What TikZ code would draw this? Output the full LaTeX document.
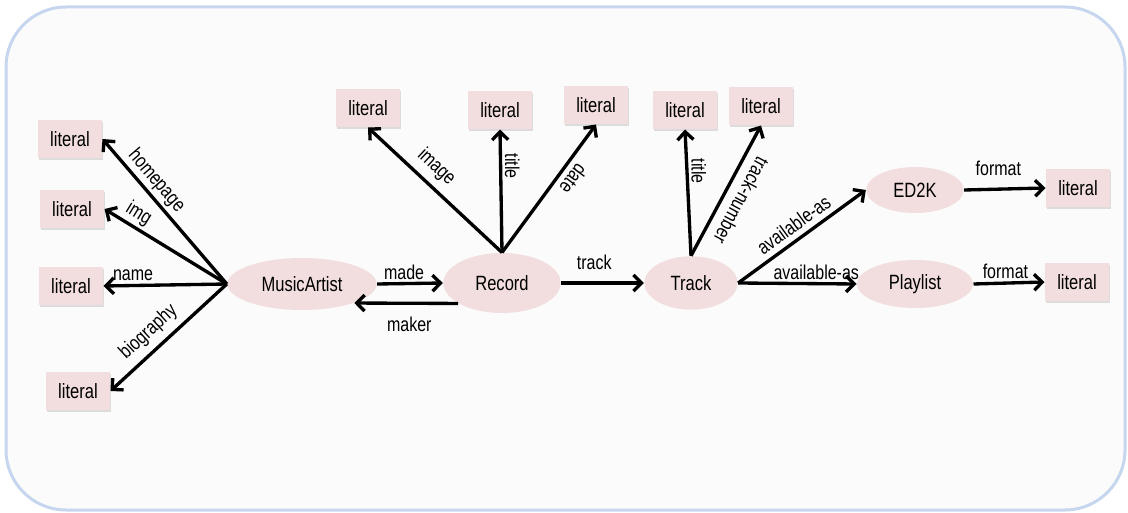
\documentclass[tikz,border=0pt]{standalone}
\usepackage{fontspec}
\setmainfont{Liberation Sans}[FakeStretch=0.8]
\usetikzlibrary{arrows.meta,shapes.geometric,shadows}

\definecolor{nodepink}{RGB}{242,222,222}
\definecolor{frameblue}{RGB}{198,214,238}
\definecolor{framefill}{RGB}{251,251,251}

\tikzset{every picture/.style={line width=0.75pt},
	lit/.style={rectangle, fill=nodepink, minimum width=48pt, minimum height=28.5pt, inner sep=2pt,
		font=\fontsize{15.5}{17}\selectfont,
		drop shadow={shadow xshift=1pt, shadow yshift=-1.5pt, opacity=0.25}},
	res/.style={ellipse, fill=nodepink, inner sep=0pt, font=\fontsize{15.5}{17}\selectfont},
	rel/.style={-{Straight Barb[length=6pt,width=12pt]}, line width=2.5pt},
	lbl/.style={font=\fontsize{15}{17}\selectfont, inner sep=2pt},
	farlbl/.style={lbl, inner sep=9pt}}

\begin{document}
\begin{tikzpicture}[x=0.75pt,y=-0.75pt]
	\useasboundingbox (0,0) rectangle (1128,513);

	%Frame
	\draw [frameblue, line width=2.25pt, fill=framefill, rounded corners=45pt] (6,7) rectangle (1125,510);

	%Resources
	\node [res, minimum width=112pt, minimum height=39pt] (artist) at (302,284) {MusicArtist};
	\node [res, minimum width=88pt, minimum height=45pt] (record) at (502,283) {Record};
	\node [res, minimum width=70pt, minimum height=40pt] (track) at (691,283) {Track};
	\node [res, minimum width=73pt, minimum height=34.5pt] (edk) at (915,190) {ED2K};
	\node [res, minimum width=87pt, minimum height=36pt] (playlist) at (915,284) {Playlist};

	%Literals
	\node [lit] (hplit) at (70,139) {literal};
	\node [lit] (imglit) at (72,209) {literal};
	\node [lit] (namelit) at (71,286) {literal};
	\node [lit] (biolit) at (78,391) {literal};
	\node [lit] (imagelit) at (368,108) {literal};
	\node [lit] (rtitlelit) at (500,110) {literal};
	\node [lit] (datelit) at (596,105) {literal};
	\node [lit] (ttitlelit) at (685,110) {literal};
	\node [lit] (numlit) at (761,106) {literal};
	\node [lit] (edklit) at (1078,188) {literal};
	\node [lit] (pllit) at (1077,282) {literal};

	%MusicArtist properties
	\draw [rel] (artist.west) -- node [lbl, sloped, above, pos=0.65] {homepage} (hplit.east);
	\draw [rel] (artist.west) -- node [lbl, sloped, above, pos=0.78] {img} (imglit.east);
	\draw [rel] (artist.west) -- node [lbl, above, pos=0.76] {name} (namelit.east);
	\draw [rel] (artist.west) -- node [lbl, sloped, above, pos=0.57, inner sep=5pt] {biography} (biolit.east);
	\draw [rel] (artist.east) -- node [lbl, above, pos=0.41] {made} (record.west);
	\draw [rel] (record.205) -- node [farlbl, below, pos=0.47] {maker} (artist.340);

	%Record properties
	\draw [rel] (record.north) -- node [lbl, sloped, above, pos=0.58, inner sep=5pt] {image} (imagelit.south);
	\draw [rel] (record.north) -- node [lbl, rotate=-90, above, pos=0.7] {title} (rtitlelit.south);
	\draw [rel] (record.north) -- node [lbl, rotate=233.5, above, pos=0.64, inner sep=4pt] {date} (datelit.south);
	\draw [rel] (record.east) -- node [farlbl, above, pos=0.4] {track} (track.west);

	%Track properties
	\draw [rel] (track.north) -- node [lbl, rotate=-90, above, pos=0.67] {title} (ttitlelit.south);
	\draw [rel] (track.north) -- node [lbl, rotate=241.7, above, pos=0.49, inner sep=7pt] {track-number} (numlit.south);
	\draw [rel] (track.east) -- node [lbl, sloped, above, pos=0.5, inner sep=4pt] {available-as} (edk.west);
	\draw [rel] (track.east) -- node [lbl, above, pos=0.66] {available-as} (playlist.west);

	%Formats
	\draw [rel] (edk.east) -- node [farlbl, above, pos=0.42] {format} (edklit.west);
	\draw [rel] (playlist.east) -- node [lbl, above, pos=0.45] {format} (pllit.west);

\end{tikzpicture}
\end{document}
